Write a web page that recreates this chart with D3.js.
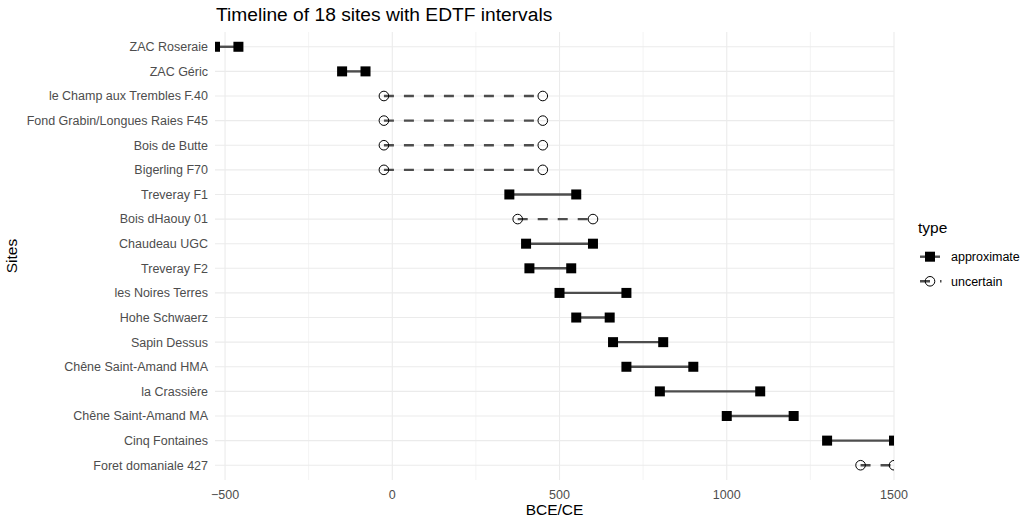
<!DOCTYPE html>
<html>
<head>
<meta charset="utf-8">
<script src="https://cdn.jsdelivr.net/npm/d3@7"></script>
<style>
  html, body { margin: 0; padding: 0; background: #fff; }
  svg { display: block; font-family: "Liberation Sans", Arial, sans-serif; }
</style>
</head>
<body>
<svg id="chart" width="1027" height="522"></svg>
<script>
const sites = [
  "ZAC Roseraie", "ZAC Géric", "le Champ aux Trembles F.40", "Fond Grabin/Longues Raies F45",
  "Bois de Butte", "Bigerling F70", "Treveray F1", "Bois dHaouy 01", "Chaudeau UGC",
  "Treveray F2", "les Noires Terres", "Hohe Schwaerz", "Sapin Dessus", "Chêne Saint-Amand HMA",
  "la Crassière", "Chêne Saint-Amand MA", "Cinq Fontaines", "Foret domaniale 427"
];
const starts = [-530, -150, -25, -25, -25, -25, 350, 375, 400, 410, 500, 550, 660, 700, 800, 1000, 1300, 1400];
const ends   = [-460,  -80, 450, 450, 450, 450, 550, 600, 600, 535, 700, 650, 810, 900, 1100, 1200, 1500, 1500];
const types  = ["approximate", "approximate", "uncertain", "uncertain", "uncertain", "uncertain",
  "approximate", "uncertain", "approximate", "approximate", "approximate", "approximate",
  "approximate", "approximate", "approximate", "approximate", "approximate", "uncertain"];
const typeLevels = ["approximate", "uncertain"];
const xMajorTicks = [-500, 0, 500, 1000, 1500];
const xMinorTicks = [-250, 250, 750, 1250];
const titleText = "Timeline of 18 sites with EDTF intervals";
const xTitle = "BCE/CE";
const yTitle = "Sites";
const legendTitle = "type";

const data = sites.map((s, i) => ({ site: s, start: starts[i], end: ends[i], type: types[i] }));

const panel = { left: 215, right: 894, top: 32, bottom: 480 };
const svg = d3.select("#chart");

const x = d3.scaleLinear().domain([-530, 1500]).range([panel.left, panel.right]);
const y = d3.scalePoint().domain(sites).range([panel.top, panel.bottom]).padding(0.6);

const lineColor = "#4d4d4d";
const dash = { approximate: null, uncertain: "10,10" };

// grid
const grid = svg.append("g");
grid.selectAll(".minor").data(xMinorTicks).join("line")
  .attr("x1", d => x(d)).attr("x2", d => x(d))
  .attr("y1", panel.top).attr("y2", panel.bottom)
  .attr("stroke", "#ebebeb").attr("stroke-width", 0.6);
grid.selectAll(".major").data(xMajorTicks).join("line")
  .attr("x1", d => x(d)).attr("x2", d => x(d))
  .attr("y1", panel.top).attr("y2", panel.bottom)
  .attr("stroke", "#ebebeb").attr("stroke-width", 1.1);
grid.selectAll(".hmajor").data(sites).join("line")
  .attr("x1", panel.left).attr("x2", panel.right)
  .attr("y1", d => y(d)).attr("y2", d => y(d))
  .attr("stroke", "#ebebeb").attr("stroke-width", 1.1);

// clip
svg.append("defs").append("clipPath").attr("id", "clip")
  .append("rect").attr("x", panel.left).attr("y", panel.top)
  .attr("width", panel.right - panel.left).attr("height", panel.bottom - panel.top);

const plot = svg.append("g").attr("clip-path", "url(#clip)");

plot.selectAll(".seg").data(data).join("line")
  .attr("x1", d => x(d.start)).attr("x2", d => x(d.end))
  .attr("y1", d => y(d.site)).attr("y2", d => y(d.site))
  .attr("stroke", lineColor).attr("stroke-width", 2.4)
  .attr("stroke-dasharray", d => dash[d.type]);

const pts = [];
data.forEach(d => { pts.push({ site: d.site, v: d.start, type: d.type }); pts.push({ site: d.site, v: d.end, type: d.type }); });

const sq = 10;
plot.selectAll(".sq").data(pts.filter(p => p.type === "approximate")).join("rect")
  .attr("x", d => x(d.v) - sq / 2).attr("y", d => y(d.site) - sq / 2)
  .attr("width", sq).attr("height", sq).attr("fill", "#000");
plot.selectAll(".ci").data(pts.filter(p => p.type === "uncertain")).join("circle")
  .attr("cx", d => x(d.v)).attr("cy", d => y(d.site)).attr("r", 4.8)
  .attr("fill", "none").attr("stroke", "#000").attr("stroke-width", 1);

// axes text
svg.append("g").selectAll("text").data(sites).join("text")
  .attr("x", 208).attr("y", d => y(d)).attr("dy", "0.35em")
  .attr("text-anchor", "end").attr("font-size", 12.5).attr("fill", "#4d4d4d")
  .text(d => d);

svg.append("g").selectAll("text").data(xMajorTicks).join("text")
  .attr("x", d => x(d)).attr("y", 498.5)
  .attr("text-anchor", "middle").attr("font-size", 12.5).attr("fill", "#4d4d4d")
  .text(d => d3.format("d")(d));

svg.append("text").attr("x", (panel.left + panel.right) / 2).attr("y", 515)
  .attr("text-anchor", "middle").attr("font-size", 15.5).attr("fill", "#000").text(xTitle);

svg.append("text").attr("transform", `translate(17,${(panel.top + panel.bottom) / 2}) rotate(-90)`)
  .attr("text-anchor", "middle").attr("font-size", 15.5).attr("fill", "#000").text(yTitle);

svg.append("text").attr("x", 216).attr("y", 21)
  .attr("font-size", 19.2).attr("fill", "#000").text(titleText);

// legend
const lg = svg.append("g");
lg.append("text").attr("x", 918).attr("y", 233).attr("font-size", 15.5).attr("fill", "#000").text(legendTitle);
const ly = d3.scalePoint().domain(typeLevels).range([256.7, 281.3]);
typeLevels.forEach(t => {
  const g = lg.append("g");
  g.append("line").attr("x1", 920).attr("x2", t === "uncertain" ? 941.5 : 940)
    .attr("y1", ly(t)).attr("y2", ly(t))
    .attr("stroke", lineColor).attr("stroke-width", 2.4).attr("stroke-dasharray", dash[t]);
  if (t === "approximate") {
    g.append("rect").attr("x", 930 - sq / 2).attr("y", ly(t) - sq / 2).attr("width", sq).attr("height", sq).attr("fill", "#000");
  } else {
    g.append("circle").attr("cx", 930).attr("cy", ly(t)).attr("r", 4.8).attr("fill", "none").attr("stroke", "#000").attr("stroke-width", 1);
  }
  g.append("text").attr("x", 951).attr("y", ly(t)).attr("dy", "0.35em")
    .attr("font-size", 12.5).attr("fill", "#000").text(t);
});
</script>
</body>
</html>
